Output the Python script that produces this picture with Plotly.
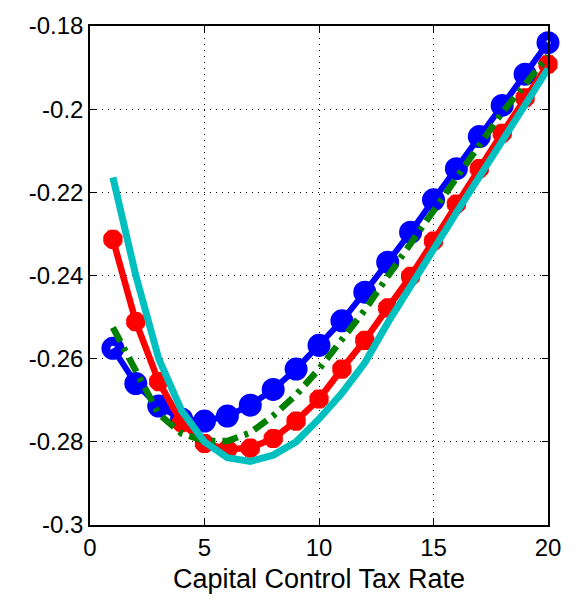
import plotly.graph_objects as go

x = list(range(1, 21))

blue = [-0.2575, -0.2660, -0.2714, -0.2745, -0.2750, -0.2738, -0.2712, -0.2674, -0.2625, -0.2568,
        -0.2509, -0.2440, -0.2368, -0.2296, -0.2218, -0.2143, -0.2066, -0.1991, -0.1916, -0.1840]
red = [-0.2313, -0.2511, -0.2655, -0.2754, -0.2804, -0.2818, -0.2815, -0.2792, -0.2750, -0.2697,
       -0.2625, -0.2556, -0.2478, -0.2402, -0.2317, -0.2228, -0.2143, -0.2058, -0.1973, -0.1892]
green = [-0.2525, -0.2632, -0.2733, -0.2780, -0.2798, -0.2798, -0.2778, -0.2737, -0.2687, -0.2625,
         -0.2555, -0.2483, -0.2402, -0.2324, -0.2244, -0.2164, -0.2085, -0.2008, -0.1940, -0.1872]
cyan = [-0.2164, -0.2400, -0.2600, -0.2725, -0.2800, -0.2838, -0.2847, -0.2832, -0.2800, -0.2745,
        -0.2683, -0.2610, -0.2514, -0.2423, -0.2336, -0.2249, -0.2163, -0.2076, -0.1990, -0.1903]

x_ticks = [0, 5, 10, 15, 20]
y_ticks = [-0.3, -0.28, -0.26, -0.24, -0.22, -0.2, -0.18]
y_tick_labels = ["-0.3", "-0.28", "-0.26", "-0.24", "-0.22", "-0.2", "-0.18"]

FONT = "Liberation Sans, Arial"

fig = go.Figure()
fig.add_trace(go.Scatter(x=x, y=blue, mode="markers",
                         marker=dict(symbol="circle-open", size=14, color="#0000ff",
                                     line=dict(width=9, color="#0000ff")),
                         cliponaxis=False))
fig.add_trace(go.Scatter(x=x, y=blue, mode="lines",
                         line=dict(color="#0000ff", width=6),
                         cliponaxis=False))
fig.add_trace(go.Scatter(x=x, y=red, mode="lines+markers",
                         line=dict(color="#ff0000", width=6.5),
                         marker=dict(symbol="asterisk-open", size=16, color="#ff0000",
                                     line=dict(width=7, color="#ff0000")),
                         cliponaxis=False))
fig.add_trace(go.Scatter(x=x, y=green, mode="lines",
                         line=dict(color="#008000", width=6.5, dash="16px,7px,4px,7px"),
                         cliponaxis=False))
fig.add_trace(go.Scatter(x=x, y=cyan, mode="lines",
                         line=dict(color="#00bfbf", width=7),
                         cliponaxis=False))

axis_common = dict(showline=True, linecolor="black", linewidth=1.5, mirror="ticks",
                   ticks="inside", ticklen=6, tickcolor="black", tickwidth=1,
                   showgrid=True, gridcolor="black", gridwidth=1, griddash="1px,5px",
                   zeroline=False,
                   tickfont=dict(family=FONT, size=24, color="black"))

fig.update_layout(
    width=577, height=601,
    margin=dict(l=90, r=29, t=18, b=75),
    paper_bgcolor="white", plot_bgcolor="white",
    showlegend=False,
    xaxis=dict(range=[0, 20], tickvals=x_ticks,
               title=dict(text="Capital Control Tax Rate", standoff=10,
                          font=dict(family=FONT, size=27, color="black")),
               **axis_common),
    yaxis=dict(range=[-0.3, -0.18], tickvals=y_ticks, ticktext=y_tick_labels,
               **axis_common),
)

fig.write_html("out.html")
